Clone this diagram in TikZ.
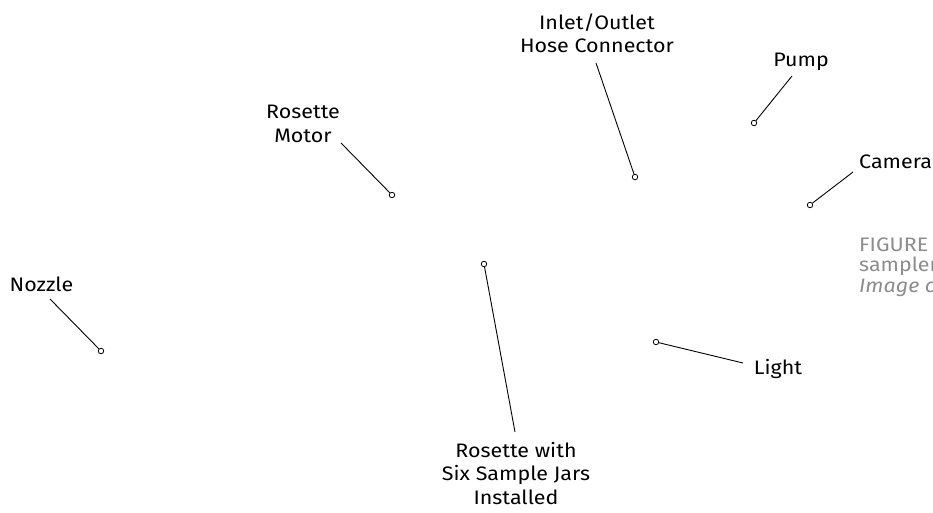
\documentclass[tikz,border=0pt]{standalone}
\usepackage{fontspec}
\setmainfont{Fira Sans}[FakeStretch=1.1]
\definecolor{figgray}{RGB}{140,140,140}
\begin{document}
\begin{tikzpicture}[x=1pt,y=-1pt,
  lbl/.style={font=\fontsize{19.5}{23.5}\selectfont, align=center, inner sep=0pt, text=black},
  lead/.style={draw=black, line width=0.9pt},
  dot/.style={circle, draw=black, fill=white, line width=0.8pt, minimum size=5.5pt, inner sep=0pt},
  figcap/.style={font=\fontsize{19.5}{23.5}\selectfont, text=figgray, anchor=west, inner sep=0pt}]
\useasboundingbox (0,0) rectangle (933,512);
% Nozzle
\node[lbl] (noz) at (41.5,284) {Nozzle};
\coordinate (nozA) at (50,299);
\node[dot] (nozD) at (101,351) {};
\draw[lead] (nozA) -- (nozD);
% Rosette Motor
\node[lbl] (mot) at (303,124) {Rosette\\Motor};
\coordinate (motA) at (341,143);
\node[dot] (motD) at (392,195) {};
\draw[lead] (motA) -- (motD);
% Inlet/Outlet
\node[lbl] (hose) at (597,33) {Inlet/Outlet\\Hose Connector};
\coordinate (hoseA) at (596,63);
\node[dot] (hoseD) at (635,177) {};
\draw[lead] (hoseA) -- (hoseD);
% Pump
\node[lbl] (pump) at (801,62) {Pump};
\coordinate (pumpA) at (792,76);
\node[dot] (pumpD) at (754,123) {};
\draw[lead] (pumpA) -- (pumpD);
% Camera
\node[lbl, anchor=west] (cam) at (859,162) {Camera};
\coordinate (camA) at (853,172);
\node[dot] (camD) at (810,205) {};
\draw[lead] (camA) -- (camD);
% Light
\node[lbl] (light) at (778,369) {Light};
\coordinate (lightA) at (743,363);
\node[dot] (lightD) at (656,342) {};
\draw[lead] (lightA) -- (lightD);
% Rosette with jars
\node[lbl] (ros) at (516,473) {Rosette with\\Six Sample Jars\\Installed};
\coordinate (rosA) at (515,432);
\node[dot] (rosD) at (484,264) {};
\draw[lead] (rosA) -- (rosD);
% Figure caption (cut off at the right edge)
\node[figcap] (fig1) at (859,245) {FIGURE};
\node[figcap] (fig2) at (859,266) {sampler};
\node[figcap, font=\fontsize{19.5}{23.5}\selectfont\itshape] (fig3) at (859,287) {Image credit};
\end{tikzpicture}
\end{document}
